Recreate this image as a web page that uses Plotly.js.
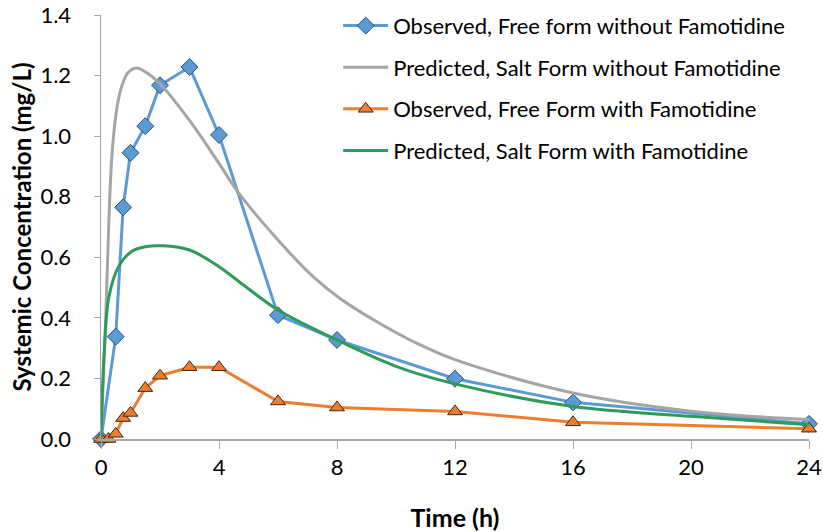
<!DOCTYPE html>
<html>
<head>
<meta charset="utf-8">
<script src="https://cdn.plot.ly/plotly-3.0.1.min.js"></script>
<style>html,body{margin:0;padding:0;background:#fff;}#chart{width:823px;height:532px;}</style>
</head>
<body>
<div id="chart"></div>
<script>
// Observed, free form without famotidine
const obsNoFamT = [0, 0.5, 0.75, 1, 1.5, 2, 3, 4, 6, 8, 12, 16, 24];
const obsNoFamC = [0, 0.338, 0.765, 0.945, 1.033, 1.168, 1.228, 1.004, 0.409, 0.327, 0.199, 0.121, 0.05];
// Predicted, salt form without famotidine
const predNoFamT = [0, 0.16, 0.27, 0.38, 0.55, 0.72, 0.92, 1.2, 1.54, 2, 3, 4, 4.64, 6, 7.19, 8.09, 9.44, 10.58, 12, 16, 20, 24];
const predNoFamC = [0, 0.40, 0.73, 0.95, 1.10, 1.17, 1.21, 1.225, 1.21, 1.173, 1.052, 0.91, 0.816, 0.657, 0.536, 0.465, 0.382, 0.322, 0.262, 0.152, 0.092, 0.064];
// Observed, free form with famotidine
const obsFamT = [0, 0.25, 0.5, 0.75, 1, 1.5, 2, 3, 4, 6, 8, 12, 16, 24];
const obsFamC = [0, 0, 0.017, 0.069, 0.086, 0.168, 0.209, 0.237, 0.237, 0.124, 0.104, 0.091, 0.055, 0.034];
// Predicted, salt form with famotidine
const predFamT = [0, 0.11, 0.27, 0.6, 1.05, 1.5, 2.1, 3, 4, 4.93, 6, 8, 10, 12, 16, 20, 24];
const predFamC = [0, 0.29, 0.47, 0.57, 0.62, 0.635, 0.638, 0.624, 0.569, 0.501, 0.426, 0.327, 0.24, 0.182, 0.107, 0.075, 0.047];

const xTicks = [0, 4, 8, 12, 16, 20, 24];
const yTicks = [0, 0.2, 0.4, 0.6, 0.8, 1.0, 1.2, 1.4];
const yTickText = ['0.0', '0.2', '0.4', '0.6', '0.8', '1.0', '1.2', '1.4'];

const FONT = 'Lato, "Open Sans", sans-serif';

const traces = [
  {x: obsNoFamT, y: obsNoFamC, name: 'Observed, Free form without Famotidine', mode: 'lines+markers',
   legendgroup: 'a', line: {color: '#5b9bd5', width: 3},
   marker: {symbol: 'diamond', size: 13, color: '#5b9bd5', line: {color: '#2f4b6b', width: 1}}, cliponaxis: false},
  {x: predNoFamT, y: predNoFamC, name: 'Predicted, Salt Form without Famotidine', mode: 'lines',
   legendgroup: 'b', line: {color: '#a5a5a5', width: 3, shape: 'spline', smoothing: 1}},
  {x: obsFamT, y: obsFamC, name: 'Observed, Free Form with Famotidine', mode: 'lines+markers',
   legendgroup: 'c', line: {color: '#ed7d31', width: 3},
   marker: {symbol: 'triangle-up', size: 13, color: '#ed7d31', line: {color: '#3b2a1a', width: 1}}, cliponaxis: false},
  {x: predFamT, y: predFamC, name: 'Predicted, Salt Form with Famotidine', mode: 'lines',
   legendgroup: 'd', line: {color: '#2e9a5c', width: 3, shape: 'spline', smoothing: 1}}
];

const layout = {
  width: 823, height: 532,
  margin: {l: 101, r: 14, t: 15, b: 93, autoexpand: false},
  paper_bgcolor: '#fff', plot_bgcolor: '#fff',
  font: {family: FONT, color: '#000', size: 22},
  showlegend: true,
  legend: {x: 0.335, y: 1.024, xanchor: 'left', yanchor: 'top', bgcolor: 'rgba(0,0,0,0)',
           font: {family: FONT, size: 22, color: '#000'}, tracegroupgap: 10, itemwidth: 45},
  xaxis: {range: [0, 24], tickvals: xTicks, ticktext: xTicks.map(String), showgrid: false, zeroline: false,
          showline: true, linecolor: '#a6a6a6', linewidth: 1.5, ticks: 'outside', ticklen: 8, tickcolor: '#a6a6a6',
          tickfont: {family: FONT, size: 22, color: '#000'}, automargin: false,
          title: {text: '<b>Time (h)</b>', font: {family: FONT, size: 25, color: '#000'}, standoff: 30}},
  yaxis: {range: [0, 1.4], tickvals: yTicks, ticktext: yTickText, showgrid: false, zeroline: false,
          showline: true, linecolor: '#a6a6a6', linewidth: 1.5, ticks: 'outside', ticklen: 6, tickcolor: '#a6a6a6',
          ticklabelstandoff: 18, automargin: false,
          tickfont: {family: FONT, size: 22, color: '#000'},
          title: {text: '<b>Systemic Concentration (mg/L)</b>', font: {family: FONT, size: 24, color: '#000'}, standoff: 2}}
};

Plotly.newPlot('chart', traces, layout, {displayModeBar: false, staticPlot: true});
</script>
</body>
</html>
